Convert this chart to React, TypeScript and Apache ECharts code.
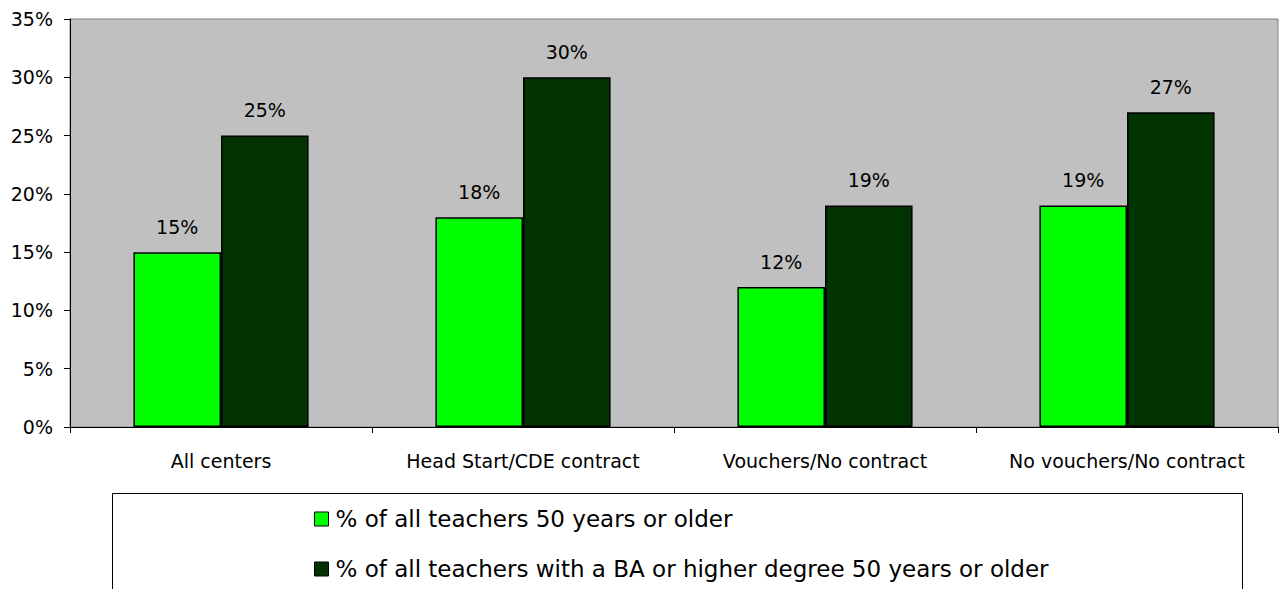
import React, { useEffect, useRef } from "react";
import * as echarts from "echarts";

const categories = ["All centers", "Head Start/CDE contract", "Vouchers/No contract", "No vouchers/No contract"];
const seriesNames = [
  "% of all teachers 50 years or older",
  "% of all teachers with a BA or higher degree 50 years or older",
];
const olderAll = [15, 18, 12, 19];
const olderBA = [25, 30, 19, 27];
const colors = ["#00FF00", "#003300"];

export default function App() {
  const ref = useRef<HTMLDivElement>(null);
  useEffect(() => {
    document.body.style.margin = "0";
    const chart = echarts.init(ref.current!, null, { renderer: "svg" });
    const font = "DejaVu Sans, Verdana, sans-serif";
    const mk = (name: string, data: number[], color: string) => ({
      name,
      type: "bar",
      data,
      barGap: "0%",
      barCategoryGap: "42%",
      itemStyle: { color, borderColor: "#000", borderWidth: 1.5 },
      label: {
        show: true,
        position: "top",
        distance: 16,
        formatter: "{c}%",
        color: "#000",
        fontSize: 19,
        fontFamily: font,
      },
    });
    const legendBase = {
      orient: "vertical",
      left: 314,
      padding: 0,
      itemWidth: 14,
      itemHeight: 14,
      icon: "rect",
      itemStyle: { borderColor: "#000", borderWidth: 1 },
      textStyle: { fontSize: 23, lineHeight: 24, color: "#000", fontFamily: font, padding: [0, 0, 0, 2] },
    };
    chart.setOption({
      animation: false,
      textStyle: { fontFamily: font },
      grid: {
        left: 70,
        right: 2,
        top: 19,
        bottom: 162,
        show: true,
        backgroundColor: "#C0C0C0",
        borderColor: "#808080",
        borderWidth: 1,
      },
      graphic: [
        {
          type: "rect",
          shape: { x: 112.5, y: 493.5, width: 1130, height: 120 },
          style: { fill: "#fff", stroke: "#000", lineWidth: 1 },
          z: -1,
        },
      ],
      legend: [
        { ...legendBase, top: 507, data: [seriesNames[0]] },
        { ...legendBase, top: 557, data: [seriesNames[1]] },
      ],
      xAxis: {
        type: "category",
        data: categories,
        axisLine: { lineStyle: { color: "#000", width: 1 } },
        axisTick: { show: true, length: 6, lineStyle: { color: "#000" } },
        axisLabel: { color: "#000", fontSize: 19, margin: 24, fontFamily: font, interval: 0 },
      },
      yAxis: {
        type: "value",
        min: 0,
        max: 35,
        interval: 5,
        axisLine: { show: true, lineStyle: { color: "#000", width: 1 } },
        axisTick: { show: true, length: 6, lineStyle: { color: "#000" } },
        axisLabel: { color: "#000", fontSize: 19, margin: 17, formatter: "{value}%", fontFamily: font },
        splitLine: { show: false },
      },
      series: [mk(seriesNames[0], olderAll, colors[0]), mk(seriesNames[1], olderBA, colors[1])],
    });
    return () => chart.dispose();
  }, []);
  return <div ref={ref} style={{ width: 1280, height: 589 }} />;
}
